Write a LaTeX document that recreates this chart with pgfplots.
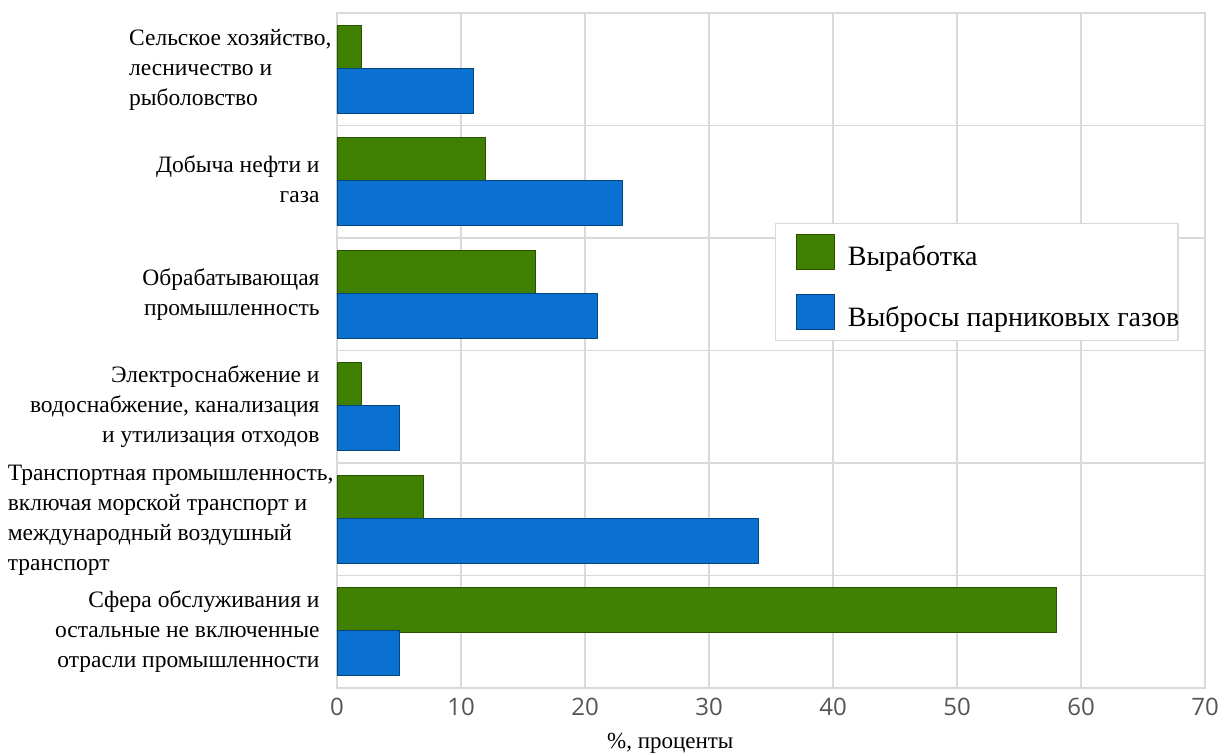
\documentclass[border=0pt]{standalone}
\usepackage{fontspec}
\setmainfont{Liberation Serif}
\newfontfamily\opensans{Open Sans}
\usepackage{pgfplots}
\pgfplotsset{compat=1.18}

\definecolor{prodgreen}{HTML}{3F8000}
\definecolor{ghgblue}{HTML}{0A71D0}
\definecolor{gridgray}{HTML}{DADADA}
\definecolor{tickgray}{HTML}{555555}

\newcommand{\lab}[2]{\begin{tabular}{@{}#1@{}}#2\end{tabular}}

\begin{document}
\begin{tikzpicture}
\begin{axis}[
    name=ax, at={(0,0)}, anchor=south west,
    scale only axis, width=868pt, height=675pt,
    xbar, bar width=0.4,
    xmin=0, xmax=70, xtick={0,10,...,70},
    ymin=-0.5, ymax=5.5, y dir=reverse,
    ytick={0,...,5},
    minor ytick={0.5,1.5,2.5,3.5,4.5},
    yticklabels={
        {\lab{l}{Сельское хозяйство,\\лесничество и\\рыболовство}\hspace*{-12pt}},
        {\lab{r}{Добыча нефти и\\газа}},
        {\lab{r}{Обрабатывающая\\промышленность}},
        {\lab{r}{Электроснабжение и\\водоснабжение, канализация\\и утилизация отходов}},
        {\lab{l}{Транспортная промышленность,\\включая морской транспорт и\\международный воздушный\\транспорт}\hspace*{-14pt}},
        {\lab{r}{Сфера обслуживания и\\остальные не включенные\\отрасли промышленности}},
    },
    xmajorgrids, yminorgrids,
    grid style={gridgray, line width=1.2pt},
    minor grid style={gridgray, line width=1.2pt},
    axis line style={gridgray, line width=1.2pt},
    tick style={draw=none},
    /pgf/number format/assume math mode=true,
    yticklabel style={font=\fontsize{23.5}{30}\selectfont, inner sep=0pt, xshift=-13pt},
    xticklabel style={font=\opensans\fontsize{24}{24}\selectfont, text=tickgray,
        anchor=center, yshift=-19pt},
    xlabel={\%, проценты},
    xlabel style={font=\fontsize{23}{23}\selectfont, at={(axis description cs:0.384,0)},
        anchor=center, yshift=-55pt},
    legend style={at={(axis description cs:0.5046,0.689)}, anchor=north west,
        draw=gridgray, line width=1.2pt, inner xsep=20pt, inner ysep=10pt,
        row sep=25pt, font=\fontsize{28}{28}\selectfont,
        nodes={inner sep=0pt}},
    legend cell align=left,
    legend image code/.code={
        \draw[#1, line width=0.8pt] (0pt,-13pt) rectangle (38pt,22pt);
        \path[draw=none, fill=none] (0pt,0pt) -- (52pt,0pt);
    },
]
\addplot[fill=prodgreen, draw=prodgreen!65!black, line width=0.8pt]
    coordinates {(2,0) (12,1) (16,2) (2,3) (7,4) (58,5)};
\addlegendentry{Выработка}
\addplot[fill=ghgblue, draw=ghgblue!60!black, line width=0.8pt]
    coordinates {(11,0) (23,1) (21,2) (5,3) (34,4) (5,5)};
\addlegendentry{\makebox[310pt][l]{Выбросы парниковых газов}}
\end{axis}
\pgfresetboundingbox
\path (-337pt,-67pt) rectangle (889pt,688pt);
\end{tikzpicture}
\end{document}
